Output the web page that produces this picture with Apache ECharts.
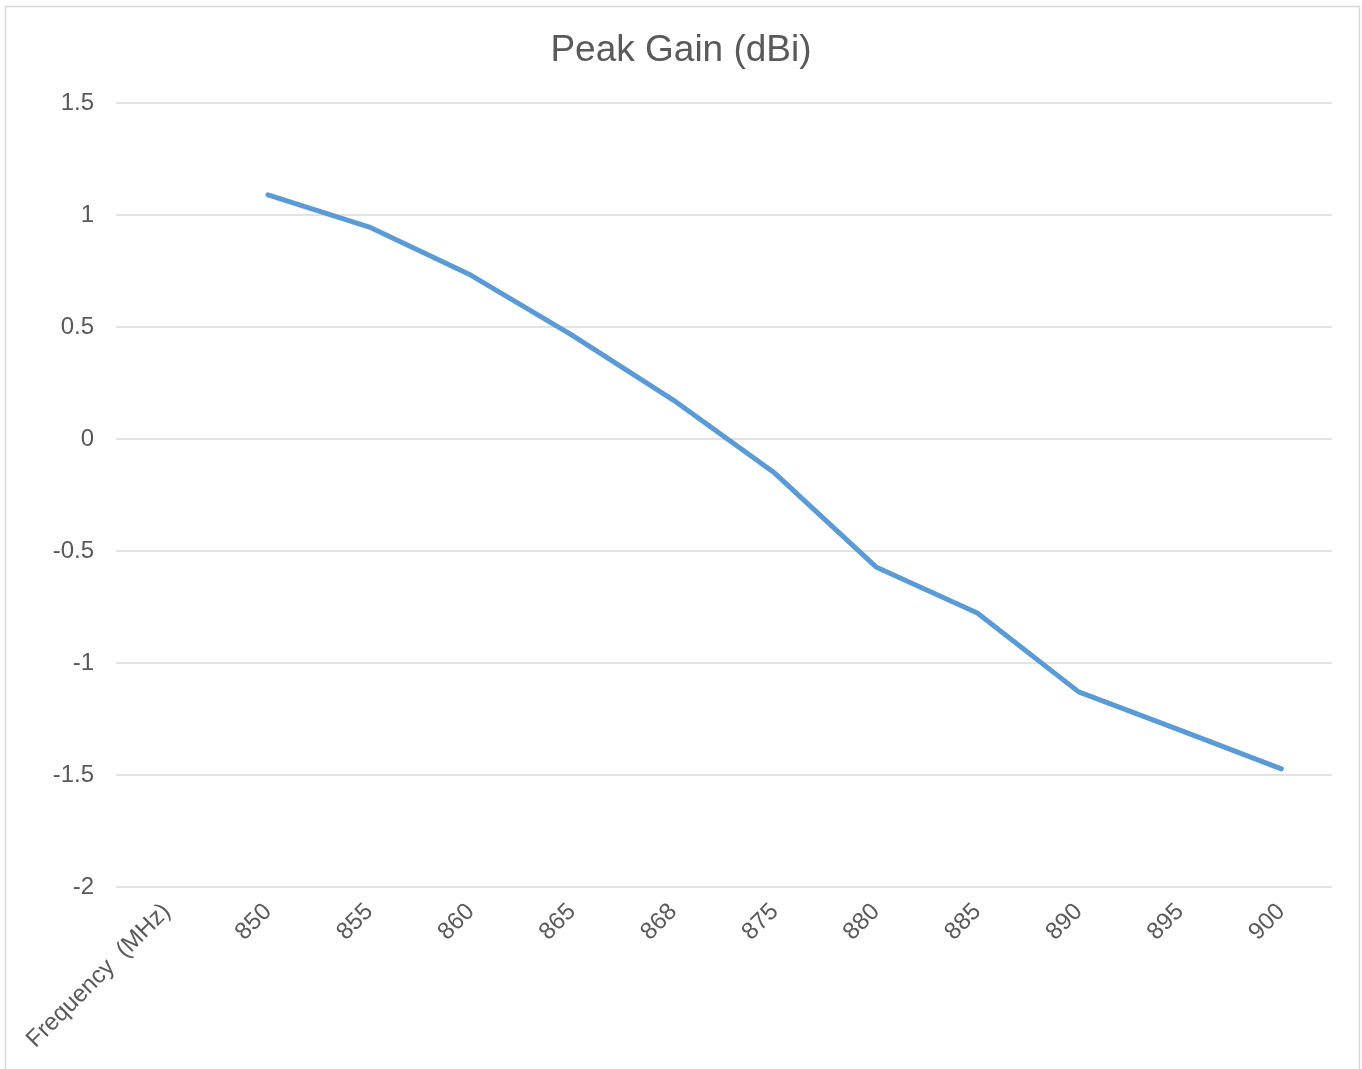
<!DOCTYPE html>
<html>
<head>
<meta charset="utf-8">
<script src="https://cdn.jsdelivr.net/npm/echarts@6/dist/echarts.min.js"></script>
<style>
html,body{margin:0;padding:0;background:#fff;}
#chart{width:1362px;height:1069px;}
</style>
</head>
<body>
<div id="chart"></div>
<script>
const categories = ['Frequency  (MHz)', '850', '855', '860', '865', '868', '875', '880', '885', '890', '895', '900'];
const peakGain = [null, 1.09, 0.946, 0.732, 0.464, 0.174, -0.152, -0.571, -0.777, -1.129, -1.30, -1.473];
const yTicks = { min: -2, max: 1.5, interval: 0.5 };

const chart = echarts.init(document.getElementById('chart'));
chart.setOption({
  backgroundColor: '#fff',
  animation: false,
  graphic: [{
    type: 'rect',
    shape: { x: 5.5, y: 6.5, width: 1354, height: 1100 },
    style: { fill: 'none', stroke: '#d9d9d9', lineWidth: 1.5 },
    silent: true
  }],
  title: {
    text: 'Peak Gain (dBi)',
    left: 'center',
    top: 27,
    textStyle: { fontFamily: 'Liberation Sans, Arial, sans-serif', fontSize: 37, fontWeight: 'normal', color: '#595959' }
  },
  grid: { left: 116, right: 30, top: 103, bottom: 182, containLabel: false },
  xAxis: {
    type: 'category',
    data: categories,
    boundaryGap: true,
    axisLine: { show: false },
    axisTick: { show: false },
    axisLabel: {
      rotate: 45,
      interval: 0,
      margin: 21,
      color: '#595959',
      fontSize: 24,
      fontFamily: 'Liberation Sans, Arial, sans-serif'
    },
    splitLine: { show: false }
  },
  yAxis: {
    type: 'value',
    min: yTicks.min,
    max: yTicks.max,
    interval: yTicks.interval,
    axisLine: { show: false },
    axisTick: { show: false },
    axisLabel: {
      margin: 22,
      color: '#595959',
      fontSize: 24,
      fontFamily: 'Liberation Sans, Arial, sans-serif'
    },
    splitLine: { lineStyle: { color: '#d9d9d9', width: 1.5 } }
  },
  series: [{
    type: 'line',
    data: peakGain,
    showSymbol: false,
    connectNulls: false,
    lineStyle: { color: '#5B9BD5', width: 5, cap: 'round', join: 'round' },
    itemStyle: { color: '#5B9BD5' }
  }]
});
</script>
</body>
</html>
